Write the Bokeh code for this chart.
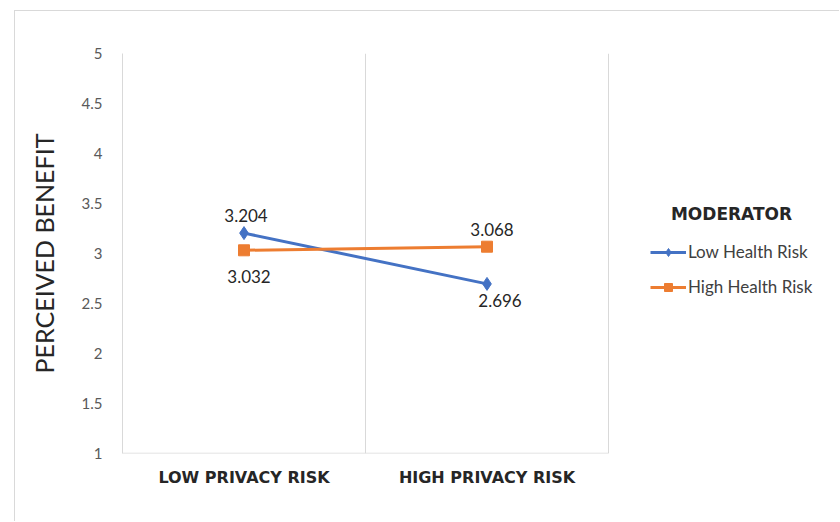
from bokeh.plotting import figure
from bokeh.models import (ColumnDataSource, FixedTicker, Legend, LegendItem, Label, Range1d)
from bokeh.core.properties import value
from bokeh.embed import file_html
from bokeh.resources import INLINE

# ---- data ----
categories = ["LOW PRIVACY RISK", "HIGH PRIVACY RISK"]
series_names = ["Low Health Risk", "High Health Risk"]
low_health = [3.204, 2.696]
high_health = [3.032, 3.068]
y_ticks = [1, 1.5, 2, 2.5, 3, 3.5, 4, 4.5, 5]
y_tick_labels = ["1", "1.5", "2", "2.5", "3", "3.5", "4", "4.5", "5"]
legend_title = "MODERATOR"

# ---- styles / layout ----
BLUE = "#4472C4"
ORANGE = "#ED7D31"
FONT = "Lato"
FIG_W, FIG_H = 825, 511
LEFT, TOP = 107, 42
PLOT_W, PLOT_H = 486, 400          # width of the category area
FRAME_W = FIG_W - LEFT             # frame extends to the right to hold legend
label_off_low = dict(x=[2, 13], y=[-11, 10])
label_off_high = dict(x=[5, 5], y=[20, -11])

n = len(categories)
x_pos = [i + 0.5 for i in range(n)]
x_end = n * FRAME_W / PLOT_W

p = figure(width=FIG_W, height=FIG_H, output_backend="svg", toolbar_location=None,
           x_range=Range1d(0, x_end), y_range=Range1d(y_ticks[0], y_ticks[-1]),
           min_border_left=LEFT, min_border_right=0, min_border_top=TOP,
           min_border_bottom=FIG_H - TOP - PLOT_H)
p.margin = (10, 0, 0, 14)
p.styles = {"border-top": "1px solid #d9d9d9", "border-left": "1px solid #d9d9d9"}
p.outline_line_color = None
p.background_fill_color = "white"
p.border_fill_color = "white"

# grid
p.ygrid.grid_line_color = None
p.xgrid.ticker = FixedTicker(ticks=list(range(n + 1)))
p.xgrid.grid_line_color = "#d9d9d9"
p.xgrid.grid_line_width = 1

# bottom axis line only under the category area
p.segment(x0=[0], y0=[y_ticks[0]], x1=[n], y1=[y_ticks[0]], line_color="#d9d9d9", line_width=1.5)

# x axis
p.xaxis.ticker = FixedTicker(ticks=x_pos)
p.xaxis.major_label_overrides = {x: c for x, c in zip(x_pos, categories)}
p.xaxis.major_tick_line_color = None
p.xaxis.minor_tick_line_color = None
p.xaxis.axis_line_color = None
p.xaxis.major_label_text_font = "DejaVu Sans"
p.xaxis.major_label_text_font_style = "bold"
p.xaxis.major_label_text_font_size = "16px"
p.xaxis.major_label_text_color = "#262626"
p.xaxis.major_label_standoff = 8

# y axis
p.yaxis.ticker = FixedTicker(ticks=y_ticks)
p.yaxis.major_label_overrides = {t: l for t, l in zip(y_ticks, y_tick_labels)}
p.yaxis.major_tick_line_color = None
p.yaxis.minor_tick_line_color = None
p.yaxis.axis_line_color = "#d9d9d9"
p.yaxis.major_label_text_font = FONT
p.yaxis.major_label_text_font_size = "15px"
p.yaxis.major_label_text_color = "#595959"
p.yaxis.major_label_standoff = 14
p.yaxis.axis_label = "PERCEIVED BENEFIT"
p.yaxis.axis_label_text_font = FONT
p.yaxis.axis_label_text_font_style = "normal"
p.yaxis.axis_label_text_font_size = "25px"
p.yaxis.axis_label_text_color = "#262626"
p.yaxis.axis_label_standoff = 20

items = []
for name, vals, color, marker, msize, off in [
    (series_names[0], low_health, BLUE, "diamond", 13, label_off_low),
    (series_names[1], high_health, ORANGE, "square", 11, label_off_high),
]:
    src = ColumnDataSource(dict(x=x_pos, y=vals, lab=[f"{v:.3f}" for v in vals],
                                xo=off["x"], yo=off["y"],
                                base=["bottom" if o < 0 else "top" for o in off["y"]]))
    r1 = p.line("x", "y", source=src, line_color=color, line_width=3)
    r2 = p.scatter("x", "y", source=src, marker=marker, size=msize, fill_color=color, line_color=color)
    p.text("x", "y", text="lab", source=src, x_offset="xo", y_offset="yo", text_baseline="base",
           text_align="center", text_font=value(FONT), text_font_size="17px", text_color="#262626")
    items.append(LegendItem(label=name, renderers=[r1, r2]))

legend = Legend(items=items, location=(528, 156), orientation="vertical",
                glyph_width=36, glyph_height=20, label_height=20, spacing=14,
                label_standoff=2, padding=0, margin=0,
                border_line_color=None, background_fill_alpha=0,
                label_text_font=FONT, label_text_font_size="17px", label_text_color="#404040")
p.add_layout(legend)

title = Label(x=609, y=240, x_units="screen", y_units="screen", text=legend_title,
              text_align="center", text_baseline="middle", text_font="DejaVu Sans",
              text_font_style="bold", text_font_size="17px", text_color="#262626")
p.add_layout(title)

open("out.html", "w").write(file_html(p, INLINE))
